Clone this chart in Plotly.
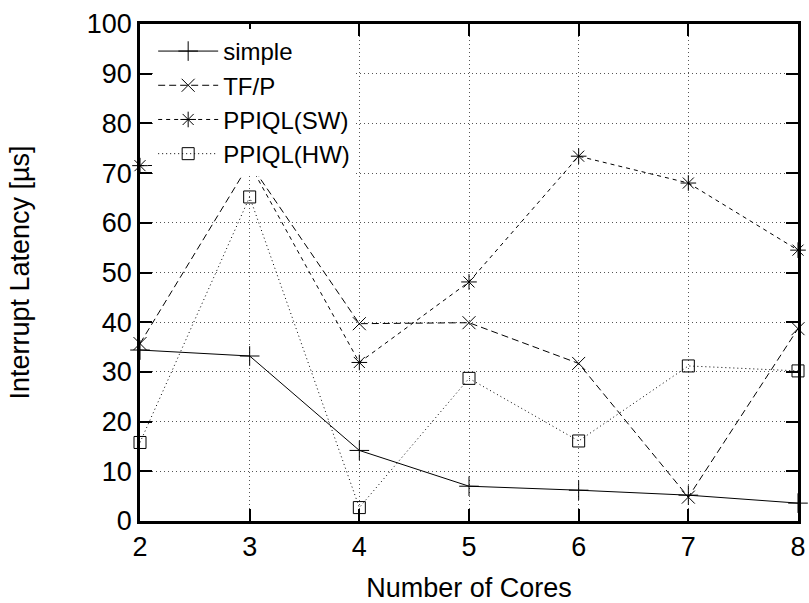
import plotly.graph_objects as go

cores = [2, 3, 4, 5, 6, 7, 8]
simple = [34.4, 33.2, 14.2, 7.0, 6.2, 5.2, 3.6]
tfp = [35.7, 72.0, 39.7, 39.9, 31.7, 4.8, 38.7]
ppiql_sw = [71.5, 71.8, 31.9, 48.1, 73.4, 68.0, 54.5]
ppiql_hw = [15.8, 65.2, 2.7, 28.7, 16.1, 31.2, 30.2]

x_ticks = [2, 3, 4, 5, 6, 7, 8]
y_ticks = [0, 10, 20, 30, 40, 50, 60, 70, 80, 90, 100]

FONT = "Liberation Sans, Arial, sans-serif"

series = [
    ("simple", simple, "solid", "cross-thin-open", 14),
    ("TF/P", tfp, "7px,4px", "x-thin-open", 13),
    ("PPIQL(SW)", ppiql_sw, "4px,4px", "asterisk-open", 13),
    ("PPIQL(HW)", ppiql_hw, "1px,3px", "square-open", 12),
]

fig = go.Figure()
for name, vals, dash, sym, size in series:
    fig.add_trace(go.Scatter(
        x=cores, y=vals, name=name, mode="lines+markers",
        line=dict(color="black", width=1, dash=dash),
        marker=dict(symbol=sym, size=size, color="black",
                    line=dict(color="black", width=1)),
        cliponaxis=False,
    ))

axis_common = dict(
    showline=True, linecolor="black", linewidth=2.5, mirror="ticks",
    ticks="inside", ticklen=12, tickwidth=2, tickcolor="black",
    showgrid=True, gridcolor="#555555", gridwidth=1, griddash="1px,3px",
    zeroline=False, automargin=False,
    tickfont=dict(family=FONT, size=27, color="black"),
)

fig.update_xaxes(
    range=[2, 8], tickvals=x_ticks, ticktext=[str(v) for v in x_ticks],
    title=dict(text="Number of Cores", font=dict(family=FONT, size=27, color="black"), standoff=20),
    **axis_common,
)
fig.update_yaxes(
    range=[0, 100], tickvals=y_ticks, ticktext=[str(v) for v in y_ticks],
    title=dict(text="Interrupt Latency [µs]", font=dict(family=FONT, size=27, color="black"), standoff=50),
    **axis_common,
)

fig.update_layout(
    width=809, height=603,
    margin=dict(l=140, r=11, t=24, b=82),
    paper_bgcolor="white", plot_bgcolor="white",
    font=dict(family=FONT, size=27, color="black"),
    showlegend=True,
    legend=dict(
        x=0.02, y=0.99, xanchor="left", yanchor="top",
        bgcolor="white", borderwidth=0,
        font=dict(family=FONT, size=24, color="black"),
        tracegroupgap=0, itemwidth=60,
    ),
)

fig.write_html(
    "out.html",
    config={"displayModeBar": False},
    post_script="document.body.style.margin='0px';document.body.style.overflow='hidden';",
)
